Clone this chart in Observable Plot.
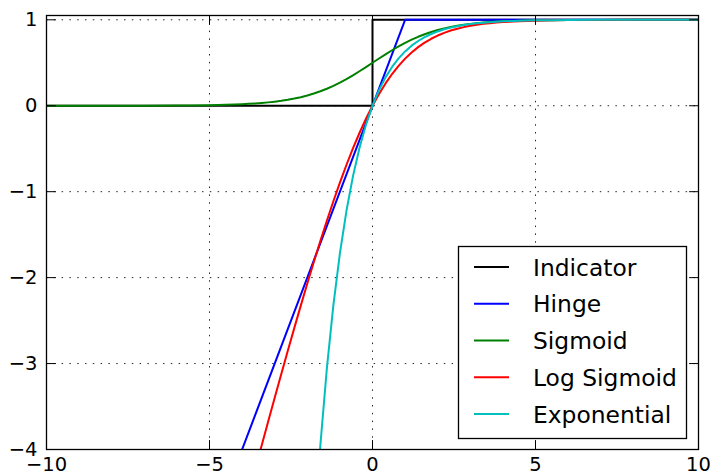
<!DOCTYPE html>
<html>
<head>
<meta charset="utf-8">
<script src="https://cdn.jsdelivr.net/npm/d3@7"></script>
<script src="https://cdn.jsdelivr.net/npm/@observablehq/plot@0.6"></script>
<style>
  html, body { margin: 0; padding: 0; background: #fff; }
  #chart { width: 710px; height: 474px; }
</style>
</head>
<body>
<div id="chart"></div>
<script>
// ---- data ----
const seriesNames = ["Indicator", "Hinge", "Sigmoid", "Log Sigmoid", "Exponential"];
const seriesColors = ["#000000", "#0000ff", "#008000", "#ff0000", "#00bfbf"];

const xTicks = [-10, -5, 0, 5, 10];
const yTicks = [-4, -3, -2, -1, 0, 1];

const indicatorX = [-10, 0, 0, 10];
const indicatorY = [0, 0, 1, 1];

const hingeX = [-4.2, 1, 10];
const hingeY = [-4.2, 1, 1];

const sigmoidX = [-10, -9, -8, -7, -6, -5.5, -5, -4.5,
  -4, -3.8, -3.6, -3.4, -3.2, -3, -2.8, -2.6, -2.4, -2.2, -2, -1.8, -1.6, -1.4, -1.2, -1, -0.8, -0.6, -0.4, -0.2,
  0, 0.2, 0.4, 0.6, 0.8, 1, 1.2, 1.4, 1.6, 1.8, 2, 2.2, 2.4, 2.6, 2.8, 3, 3.2, 3.4, 3.6, 3.8, 4,
  4.5, 5, 5.5, 6, 7, 8, 9, 10];
const sigmoidY = [0.00005, 0.00012, 0.00034, 0.00091, 0.00247, 0.00407, 0.00669, 0.01099,
  0.01799, 0.02188, 0.02660, 0.03230, 0.03917, 0.04743, 0.05732, 0.06914, 0.08317, 0.09975, 0.11920, 0.14185, 0.16798, 0.19782, 0.23148, 0.26894, 0.31003, 0.35434, 0.40131, 0.45017,
  0.5, 0.54983, 0.59869, 0.64566, 0.68997, 0.73106, 0.76852, 0.80218, 0.83202, 0.85815, 0.88080, 0.90025, 0.91683, 0.93086, 0.94268, 0.95257, 0.96083, 0.96770, 0.97340, 0.97812, 0.98201,
  0.98901, 0.99331, 0.99593, 0.99753, 0.99909, 0.99966, 0.99988, 0.99995];

const logSigX = [-3.6, -3.4, -3.2, -3, -2.8, -2.6, -2.4, -2.2, -2, -1.8, -1.6, -1.4, -1.2, -1, -0.8, -0.6, -0.4, -0.2,
  0, 0.2, 0.4, 0.6, 0.8, 1, 1.2, 1.4, 1.6, 1.8, 2, 2.2, 2.4, 2.6, 2.8, 3, 3.2, 3.4, 3.6, 3.8, 4,
  4.5, 5, 5.5, 6, 7, 8, 9, 10];
const logSigY = [-4.2327, -3.9525, -3.6744, -3.3982, -3.1248, -2.8544, -2.5877, -2.3256, -2.0685, -1.8176, -1.5735, -1.3379, -1.1111, -0.8947, -0.6896, -0.4968, -0.3172, -0.1514,
  0, 0.1371, 0.2599, 0.3688, 0.4646, 0.5480, 0.6201, 0.6820, 0.7347, 0.7793, 0.8169, 0.8484, 0.8748, 0.8966, 0.9148, 0.9299, 0.9424, 0.9526, 0.9611, 0.9681, 0.9738,
  0.9841, 0.9903, 0.9941, 0.9964, 0.9987, 0.9995, 0.9998, 0.9999];

const expX = [-1.8, -1.6, -1.4, -1.2, -1, -0.8, -0.6, -0.4, -0.2,
  0, 0.2, 0.4, 0.6, 0.8, 1, 1.2, 1.4, 1.6, 1.8, 2, 2.2, 2.4, 2.6, 2.8, 3, 3.2, 3.4, 3.6, 3.8, 4,
  4.5, 5, 5.5, 6, 7, 8, 9, 10];
const expY = [-5.0496, -3.9530, -3.0552, -2.3201, -1.7183, -1.2255, -0.8221, -0.4918, -0.2214,
  0, 0.1813, 0.3297, 0.4512, 0.5507, 0.6321, 0.6988, 0.7534, 0.7981, 0.8347, 0.8647, 0.8892, 0.9093, 0.9257, 0.9392, 0.9502, 0.9592, 0.9666, 0.9727, 0.9776, 0.9817,
  0.9889, 0.9933, 0.9959, 0.9975, 0.9991, 0.9997, 0.9999, 1.0];

// ---- build tables ----
const seriesXs = [indicatorX, hingeX, sigmoidX, logSigX, expX];
const seriesYs = [indicatorY, hingeY, sigmoidY, logSigY, expY];
const tables = seriesNames.map((name, i) =>
  seriesXs[i].map((x, j) => ({series: name, x, y: seriesYs[i][j]})));

const fmt = d => (d < 0 ? "\u2212" + Math.abs(d) : String(d));
const tickShape = {draw(ctx, l) { ctx.moveTo(0, 0); ctx.lineTo(0, -l); }};
const TICK = 9;

const marks = [
  Plot.gridX(xTicks, {stroke: "#000", strokeOpacity: 0.85, strokeWidth: 1, strokeDasharray: "1.5,6.3"}),
  Plot.gridY(yTicks, {stroke: "#000", strokeOpacity: 0.85, strokeWidth: 1, strokeDasharray: "1.5,6.3"}),
  ...tables.map((t, i) => Plot.line(t, {x: "x", y: "y", stroke: seriesColors[i], strokeWidth: 2, clip: true, curve: "linear"})),
  Plot.frame({stroke: "#000", strokeWidth: 1.3}),
  Plot.vector(xTicks, {x: d => d, frameAnchor: "bottom", length: TICK, rotate: 0, anchor: "start", shape: tickShape, stroke: "#000", strokeWidth: 1}),
  Plot.vector(xTicks, {x: d => d, frameAnchor: "top", length: TICK, rotate: 180, anchor: "start", shape: tickShape, stroke: "#000", strokeWidth: 1}),
  Plot.vector(yTicks, {y: d => d, frameAnchor: "left", length: TICK, rotate: 90, anchor: "start", shape: tickShape, stroke: "#000", strokeWidth: 1}),
  Plot.vector(yTicks, {y: d => d, frameAnchor: "right", length: TICK, rotate: -90, anchor: "start", shape: tickShape, stroke: "#000", strokeWidth: 1}),
  Plot.axisX(xTicks, {tickSize: 0, tickPadding: 8, fontSize: 19.5, tickFormat: fmt, label: null}),
  Plot.axisY(yTicks, {tickSize: 0, tickPadding: 9, fontSize: 19.5, tickFormat: fmt, label: null})
];

const chart = Plot.plot({
  width: 710,
  height: 474,
  marginLeft: 46,
  marginRight: 12,
  marginTop: 15,
  marginBottom: 25,
  x: {domain: [-10, 10]},
  y: {domain: [-4, 1.05]},
  style: {fontFamily: "DejaVu Sans", background: "#fff", color: "#000", overflow: "visible"},
  marks
});

// ---- legend (inside the axes, lower right) ----
const svg = d3.select(chart);
const lg = svg.append("g").attr("font-family", "DejaVu Sans").attr("text-anchor", "start");
const boxX = 458.5, boxY = 246.5, boxW = 228, boxH = 192, rowGap = 36.75, firstRow = 267;
lg.append("rect").attr("x", boxX).attr("y", boxY).attr("width", boxW).attr("height", boxH)
  .attr("fill", "#fff").attr("stroke", "#000").attr("stroke-width", 1.3);
seriesNames.forEach((name, i) => {
  const cy = firstRow + i * rowGap;
  lg.append("line").attr("x1", 474).attr("x2", 509).attr("y1", cy).attr("y2", cy)
    .attr("stroke", seriesColors[i]).attr("stroke-width", 2);
  lg.append("text").attr("x", 533).attr("y", cy + 8.5).attr("font-size", 23.4)
    .attr("text-anchor", "start").attr("fill", "#000").text(name);
});

document.getElementById("chart").appendChild(chart);
</script>
</body>
</html>
